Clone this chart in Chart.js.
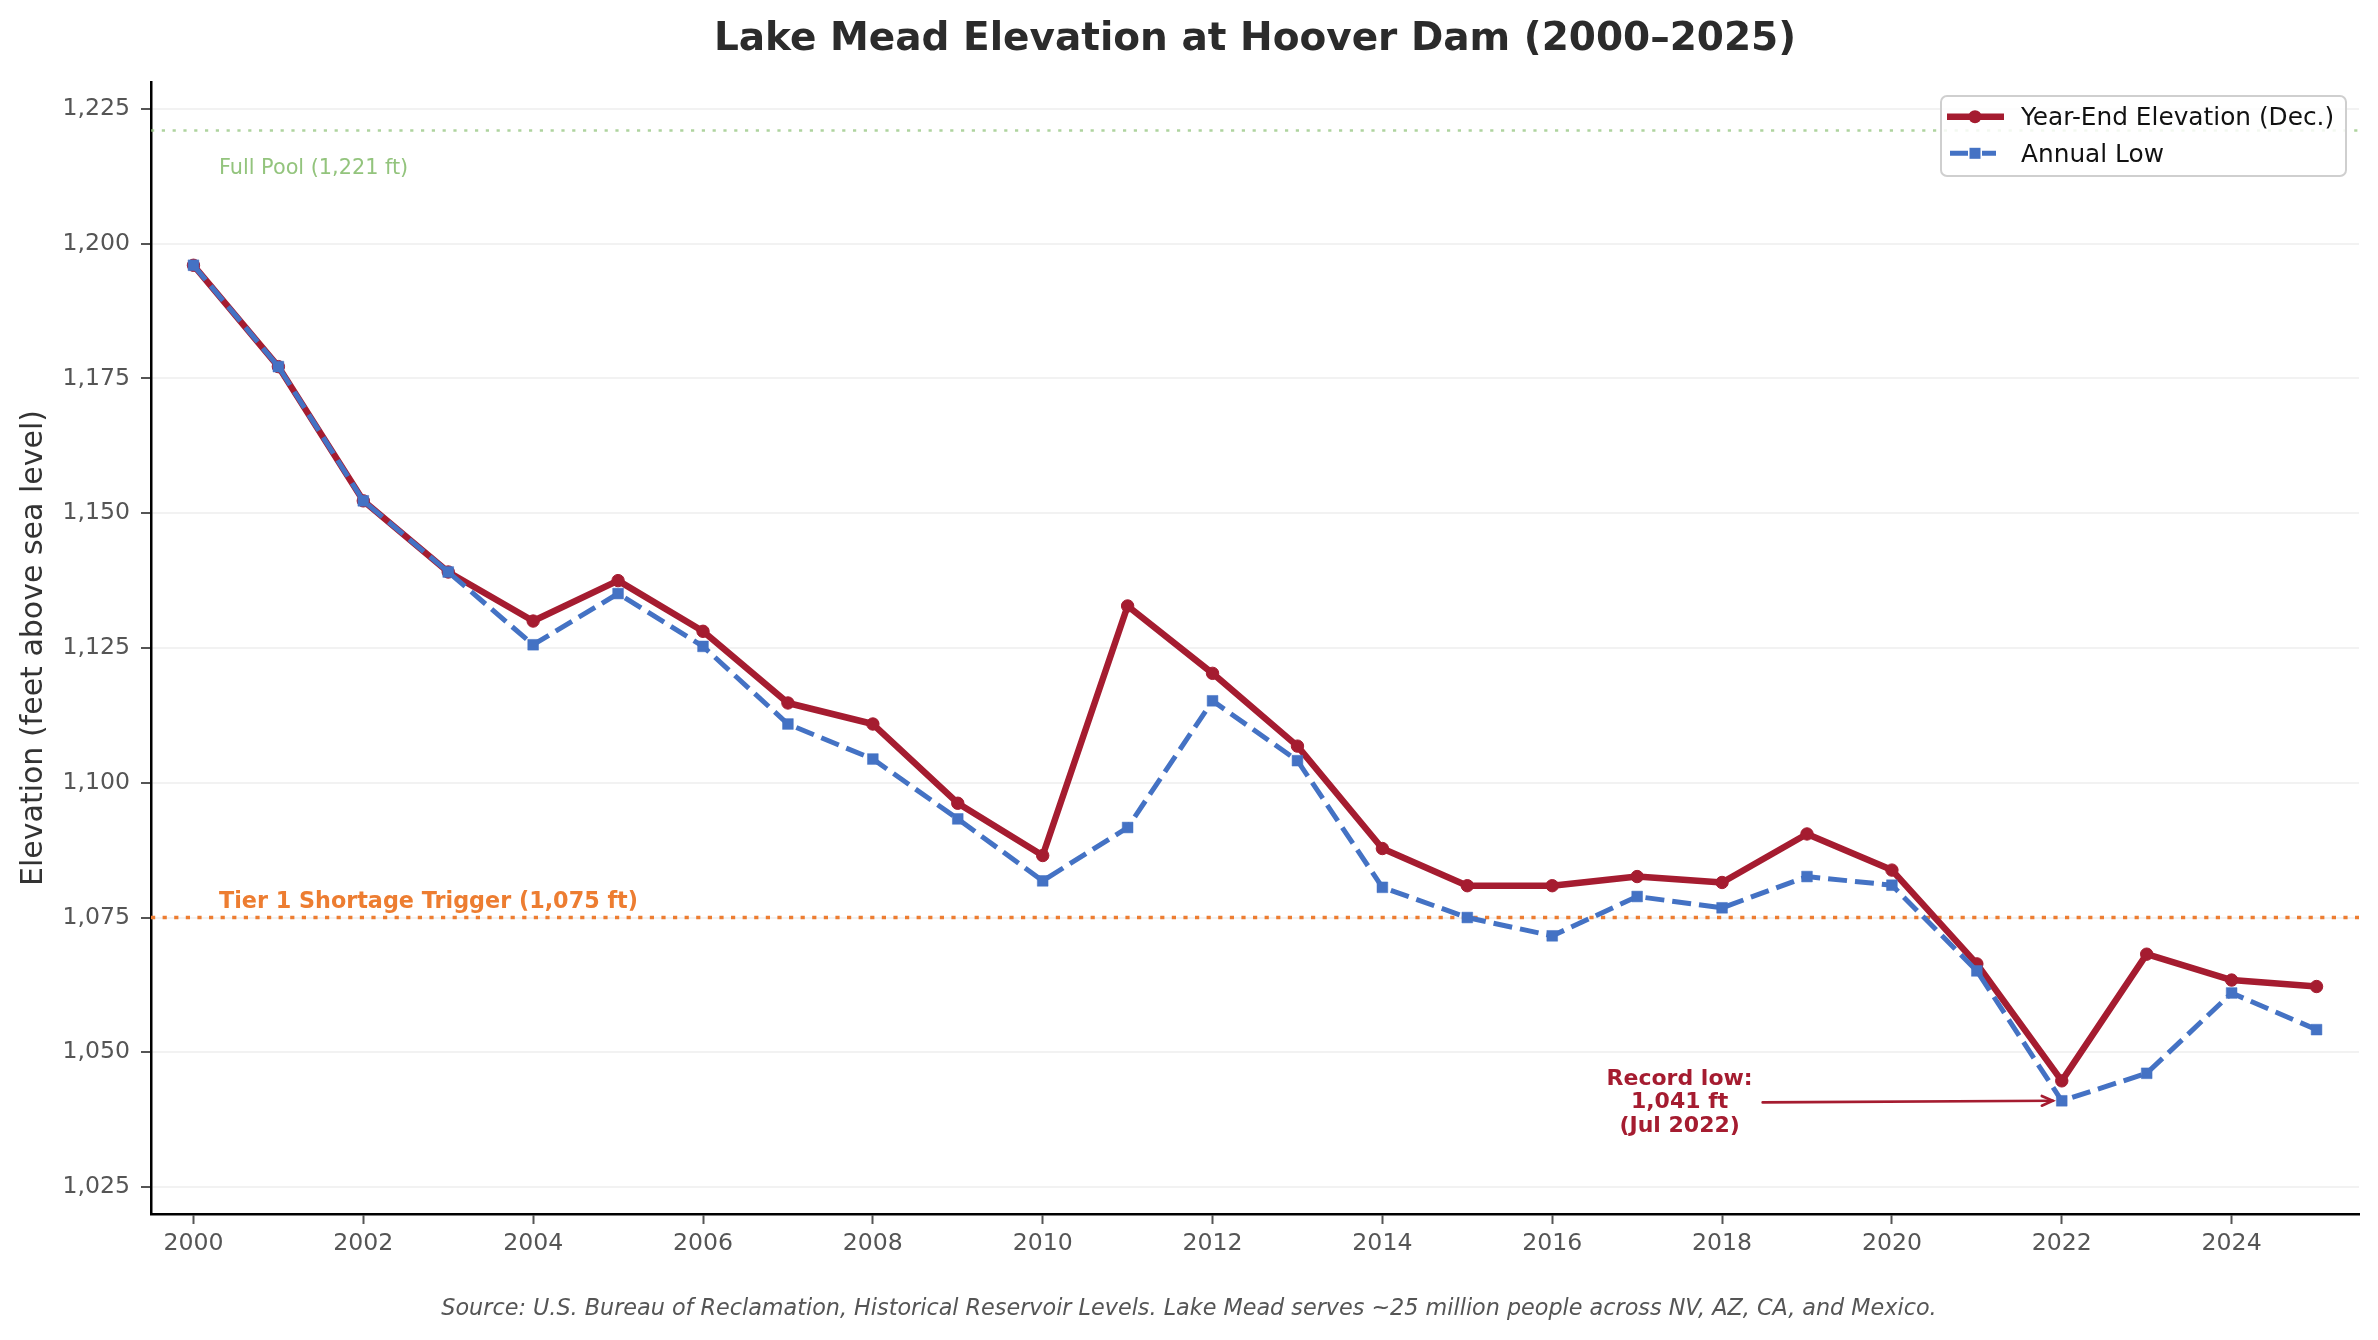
<!DOCTYPE html>
<html><head><meta charset="utf-8">
<script src="https://cdn.jsdelivr.net/npm/chart.js@4.4.1/dist/chart.umd.min.js"></script>
<style>html,body{margin:0;padding:0;background:#fff;}canvas{display:block;}</style>
</head><body>
<canvas id="c" width="2378" height="1340"></canvas>
<script>
// ---- data ----
const years = [2000,2001,2002,2003,2004,2005,2006,2007,2008,2009,2010,2011,2012,2013,2014,2015,2016,2017,2018,2019,2020,2021,2022,2023,2024,2025];
const yearEnd = [1196.0,1177.2,1152.3,1139.1,1130.0,1137.5,1128.1,1114.8,1110.9,1096.2,1086.5,1132.8,1120.3,1106.8,1087.8,1080.9,1080.9,1082.6,1081.5,1090.5,1083.8,1066.4,1044.7,1068.2,1063.4,1062.2];
const annualLow = [1196.0,1177.2,1152.3,1139.1,1125.6,1135.1,1125.3,1110.9,1104.4,1093.3,1081.8,1091.7,1115.2,1104.1,1080.6,1075.0,1071.6,1078.9,1076.8,1082.6,1081.0,1065.1,1041.0,1046.1,1061.0,1054.2];
const xTicks = [2000,2002,2004,2006,2008,2010,2012,2014,2016,2018,2020,2022,2024];
const yTicks = [1025,1050,1075,1100,1125,1150,1175,1200,1225];
const seriesNames = ['Year-End Elevation (Dec.)','Annual Low'];
const fullPool = 1221;
const tier1 = 1075;
const recordLow = {year:2022, value:1041, textX:2017.5, textY:1040.7, lines:['Record low:','1,041 ft','(Jul 2022)']};
const titleText = 'Lake Mead Elevation at Hoover Dam (2000\u20132025)';
const yLabel = 'Elevation (feet above sea level)';
const sourceText = 'Source: U.S. Bureau of Reclamation, Historical Reservoir Levels. Lake Mead serves ~25 million people across NV, AZ, CA, and Mexico.';

const RED = '#A51C30', BLUE = '#4472C4', ORANGE = '#ED7D31', GREEN = '#93c47d';
const FF = "'DejaVu Sans', sans-serif";
Chart.defaults.font.family = FF;

const refPlugin = {
  id: 'refs',
  beforeDatasetsDraw(chart) {
    const {ctx, chartArea: a, scales: {x, y}} = chart;
    ctx.save();
    let yp = y.getPixelForValue(fullPool);
    ctx.strokeStyle = 'rgba(147,196,125,0.75)';
    ctx.lineWidth = 2.6; ctx.setLineDash([3.2, 7.6]);
    ctx.beginPath(); ctx.moveTo(a.left, yp); ctx.lineTo(a.right, yp); ctx.stroke();
    yp = y.getPixelForValue(tier1);
    ctx.strokeStyle = ORANGE; ctx.lineWidth = 3.5; ctx.setLineDash([4.2, 7.4]);
    ctx.beginPath(); ctx.moveTo(a.left, yp); ctx.lineTo(a.right, yp); ctx.stroke();
    ctx.setLineDash([]);
    const lx = x.getPixelForValue(2000.3);
    ctx.textAlign = 'left'; ctx.textBaseline = 'alphabetic';
    ctx.fillStyle = GREEN; ctx.font = `20.8px ${FF}`;
    ctx.fillText('Full Pool (1,221 ft)', lx, y.getPixelForValue(fullPool) + 43);
    ctx.fillStyle = ORANGE; ctx.font = `bold 22.3px ${FF}`;
    ctx.fillText('Tier 1 Shortage Trigger (1,075 ft)', lx, y.getPixelForValue(tier1) - 9.5);
    ctx.restore();
  },
  afterDatasetsDraw(chart) {
    const {ctx, scales: {x, y}} = chart;
    ctx.save();
    const cx = x.getPixelForValue(recordLow.textX), cy = y.getPixelForValue(recordLow.textY);
    ctx.font = `bold 22px ${FF}`; ctx.fillStyle = RED;
    ctx.textAlign = 'center'; ctx.textBaseline = 'middle';
    let maxW = 0;
    recordLow.lines.forEach((t, i) => {
      ctx.fillText(t, cx, cy + (i - 1) * 23.5);
      maxW = Math.max(maxW, ctx.measureText(t).width);
    });
    const sx = cx + maxW / 2 + 10;
    const tx = x.getPixelForValue(recordLow.year) - 9, ty = y.getPixelForValue(recordLow.value);
    ctx.strokeStyle = RED; ctx.lineWidth = 2.6; ctx.lineCap = 'round';
    ctx.beginPath(); ctx.moveTo(sx, cy); ctx.lineTo(tx, ty); ctx.stroke();
    const ang = Math.atan2(ty - cy, tx - sx);
    ctx.beginPath();
    ctx.moveTo(tx - 12 * Math.cos(ang - 0.42), ty - 12 * Math.sin(ang - 0.42));
    ctx.lineTo(tx, ty);
    ctx.lineTo(tx - 12 * Math.cos(ang + 0.42), ty - 12 * Math.sin(ang + 0.42));
    ctx.stroke();
    ctx.restore();
  },
  afterDraw(chart) {
    const {ctx, chartArea: a} = chart;
    ctx.save();
    ctx.fillStyle = '#2b2b2b'; ctx.font = `bold 39px ${FF}`;
    ctx.textAlign = 'center'; ctx.textBaseline = 'alphabetic';
    ctx.fillText(titleText, (a.left + a.right) / 2, 50);
    ctx.save();
    ctx.translate(42.3, (a.top + a.bottom) / 2);
    ctx.rotate(-Math.PI / 2);
    ctx.fillStyle = '#333'; ctx.font = `30px ${FF}`;
    ctx.fillText(yLabel, 0, 0);
    ctx.restore();
    ctx.fillStyle = '#555'; ctx.font = `italic 22.3px ${FF}`;
    ctx.fillText(sourceText, 1189, 1315);
    // legend
    const bx = 1941, by = 96, bw = 405, bh = 80, r = 6;
    ctx.beginPath();
    ctx.moveTo(bx + r, by); ctx.lineTo(bx + bw - r, by); ctx.arcTo(bx + bw, by, bx + bw, by + r, r);
    ctx.lineTo(bx + bw, by + bh - r); ctx.arcTo(bx + bw, by + bh, bx + bw - r, by + bh, r);
    ctx.lineTo(bx + r, by + bh); ctx.arcTo(bx, by + bh, bx, by + bh - r, r);
    ctx.lineTo(bx, by + r); ctx.arcTo(bx, by, bx + r, by, r); ctx.closePath();
    ctx.fillStyle = 'rgba(255,255,255,0.85)'; ctx.fill();
    ctx.strokeStyle = '#cfcfcf'; ctx.lineWidth = 2; ctx.stroke();
    const r1 = 116.7, r2 = 153.3, hx = 1975;
    ctx.strokeStyle = RED; ctx.lineWidth = 6.5;
    ctx.beginPath(); ctx.moveTo(1947, r1); ctx.lineTo(2004, r1); ctx.stroke();
    ctx.fillStyle = RED; ctx.beginPath(); ctx.arc(hx, r1, 6.5, 0, Math.PI * 2); ctx.fill();
    ctx.strokeStyle = BLUE; ctx.lineWidth = 5;
    ctx.beginPath(); ctx.moveTo(1950, r2); ctx.lineTo(1968, r2); ctx.moveTo(1982, r2); ctx.lineTo(1996, r2); ctx.stroke();
    ctx.fillStyle = BLUE; ctx.fillRect(hx - 5.5, r2 - 5.5, 11, 11);
    ctx.fillStyle = '#111'; ctx.font = `24.8px ${FF}`; ctx.textAlign = 'left';
    ctx.fillText(seriesNames[0], 2021, 125);
    ctx.fillText(seriesNames[1], 2021, 161.7);
    ctx.restore();
  }
};

new Chart(document.getElementById('c'), {
  type: 'line',
  data: {
    datasets: [
      {
        label: seriesNames[0],
        data: years.map((yr, i) => ({x: yr, y: yearEnd[i]})),
        borderColor: RED, backgroundColor: RED, borderWidth: 6.5,
        borderJoinStyle: 'round', borderCapStyle: 'round',
        pointStyle: 'circle', pointRadius: 6.2, pointBorderWidth: 1,
        pointBackgroundColor: RED, pointBorderColor: RED,
        tension: 0, fill: false, order: 1
      },
      {
        label: seriesNames[1],
        data: years.map((yr, i) => ({x: yr, y: annualLow[i]})),
        borderColor: BLUE, backgroundColor: BLUE, borderWidth: 5,
        borderDash: [19, 8],
        pointStyle: 'rect', pointRadius: 7.6, pointBorderWidth: 0.5,
        pointBackgroundColor: BLUE, pointBorderColor: BLUE,
        tension: 0, fill: false, order: 0
      }
    ]
  },
  options: {
    responsive: false, animation: false, devicePixelRatio: 1,
    layout: {padding: {left: 0, right: 19, top: 82, bottom: 0}},
    plugins: {legend: {display: false}, tooltip: {enabled: false}, title: {display: false}},
    scales: {
      x: {
        type: 'linear', min: 1999.5, max: 2025.5,
        afterBuildTicks: s => { s.ticks = xTicks.map(v => ({value: v})); },
        afterFit: s => { s.height = 126; },
        ticks: {callback: v => String(v), color: '#555', font: {size: 23.6, lineHeight: 1}, padding: 8.5, maxRotation: 0, autoSkip: false},
        grid: {drawOnChartArea: false, tickLength: 10, tickWidth: 2, tickColor: '#555'},
        border: {display: true, color: '#000', width: 2.5}
      },
      y: {
        type: 'linear', min: 1020, max: 1230,
        afterBuildTicks: s => { s.ticks = yTicks.map(v => ({value: v})); },
        afterFit: s => { s.width = 151; },
        ticks: {callback: v => v.toLocaleString('en-US'), color: '#555', font: {size: 23.6}, padding: 11, autoSkip: false},
        grid: {color: '#f2f2f2', lineWidth: 2, tickLength: 10, tickWidth: 2, tickColor: '#555'},
        border: {display: true, color: '#000', width: 2.5}
      }
    }
  },
  plugins: [refPlugin]
});
</script>
</body></html>
